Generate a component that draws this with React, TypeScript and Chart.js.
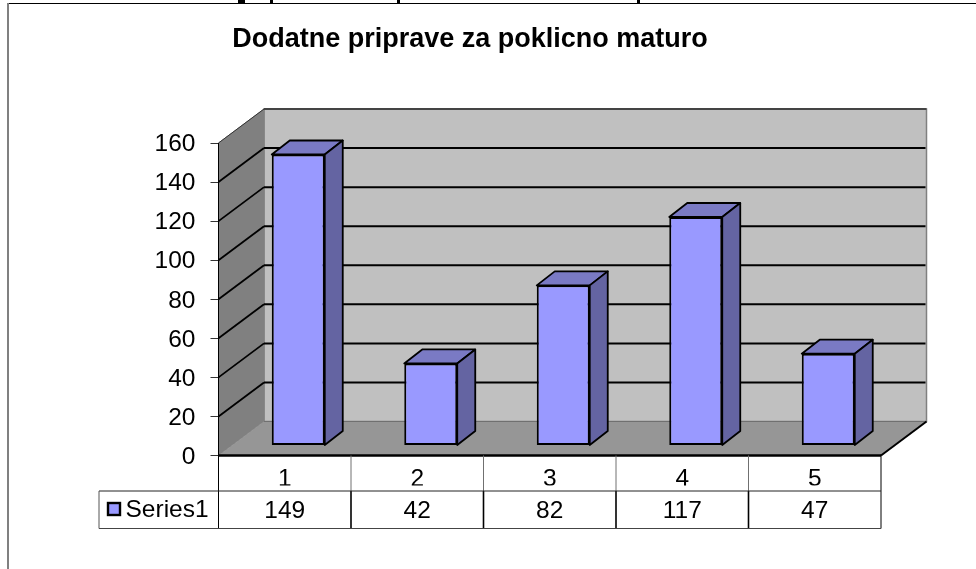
import React, { useEffect, useRef } from "react";
import { Chart, registerables } from "chart.js";

Chart.register(...registerables);

const categories = ["1", "2", "3", "4", "5"];
const seriesName = "Series1";
const seriesValues = [149, 42, 82, 117, 47];
const titleText = "Dodatne priprave za poklicno maturo";
const FONT = "'Liberation Sans', Arial, sans-serif";

// 3D projection
const WALL_DX = 45.5;
const WALL_DY = -34;
const BAR_OX = 13.5;
const BAR_OY = -10;
const BAR_DX = 18;
const BAR_DY = -14;

const poly = (ctx: CanvasRenderingContext2D, pts: number[][], fill?: string, stroke?: string, lw = 1) => {
  ctx.beginPath();
  pts.forEach((p, i) => (i ? ctx.lineTo(p[0], p[1]) : ctx.moveTo(p[0], p[1])));
  ctx.closePath();
  if (fill) {
    ctx.fillStyle = fill;
    ctx.fill();
  }
  if (stroke) {
    ctx.strokeStyle = stroke;
    ctx.lineWidth = lw;
    ctx.stroke();
  }
};
const line = (ctx: CanvasRenderingContext2D, x1: number, y1: number, x2: number, y2: number, c: string, lw: number) => {
  ctx.beginPath();
  ctx.moveTo(x1, y1);
  ctx.lineTo(x2, y2);
  ctx.strokeStyle = c;
  ctx.lineWidth = lw;
  ctx.stroke();
};

const scene3d = {
  id: "scene3d",
  afterLayout(chart: any) {
    const t = chart.titleBlock;
    if (t) {
      t.left = 0;
      t.right = 940;
      t.top = 23;
      t.bottom = 56;
    }
  },
  beforeDraw(chart: any) {
    const { ctx, chartArea: a, scales } = chart;
    const { left: L, right: R, top: T, bottom: B } = a;
    ctx.save();
    // frame of the pasted picture
    ctx.fillStyle = "#000";
    ctx.fillRect(7, 3, 969, 1);
    [[238, 7], [270, 3], [397, 3], [637, 3]].forEach(([x, w]) => ctx.fillRect(x, 0, w, 3));
    ctx.fillStyle = "#808080";
    ctx.fillRect(7, 3, 2, 566);

    // walls and floor
    poly(ctx, [[L + WALL_DX, T + WALL_DY], [R + WALL_DX, T + WALL_DY], [R + WALL_DX, B + WALL_DY], [L + WALL_DX, B + WALL_DY]], "#c0c0c0", "#808080", 1.5);
    poly(ctx, [[L, T], [L + WALL_DX, T + WALL_DY], [L + WALL_DX, B + WALL_DY], [L, B]], "#808080", "#808080", 1);
    poly(ctx, [[L, B], [R, B], [R + WALL_DX, B + WALL_DY], [L + WALL_DX, B + WALL_DY]], "#969696");
    line(ctx, L + WALL_DX, B + WALL_DY, R + WALL_DX, B + WALL_DY, "#707070", 1);
    line(ctx, L + WALL_DX, T + WALL_DY, R + WALL_DX, T + WALL_DY, "#444", 2);

    // gridlines, from the value scale
    scales.y.ticks.forEach((tk: any) => {
      if (tk.value === 0 || tk.value === 160) return;
      const y = scales.y.getPixelForValue(tk.value);
      line(ctx, L, y, L + WALL_DX, y + WALL_DY, "#000", 1.8);
      line(ctx, L + WALL_DX, y + WALL_DY, R + WALL_DX - 1, y + WALL_DY, "#000", 2);
    });
    line(ctx, L, T, L + WALL_DX, T + WALL_DY, "#333", 1);
    line(ctx, L, B, R, B, "#000", 2.4);
    line(ctx, R, B, R + WALL_DX, B + WALL_DY, "#000", 2);

    // data table
    const rowA = 491, rowB = 528.5, legendL = 99;
    const edge = (i: number) => L + ((R - L) * i) / categories.length;
    for (let i = 0; i <= categories.length; i++) {
      const outer = i === 0 || i === categories.length;
      line(ctx, edge(i), B, edge(i), rowA, outer ? "#000" : "#707070", 1);
      line(ctx, edge(i), rowA, edge(i), rowB, "#000", outer ? 1 : 1.6);
    }
    line(ctx, legendL, rowA, R, rowA, "#222", 1);
    line(ctx, legendL, rowB, R, rowB, "#444", 1);
    line(ctx, legendL, rowA, legendL, rowB, "#555", 1);
    ctx.font = `24.5px ${FONT}`;
    ctx.fillStyle = "#000";
    ctx.textBaseline = "middle";
    ctx.textAlign = "center";
    seriesValues.forEach((v, i) => ctx.fillText(String(v), (edge(i) + edge(i + 1)) / 2, 511));
    ctx.textAlign = "left";
    ctx.fillText(seriesName, 125.5, 510);
    ctx.fillStyle = "#9999ff";
    ctx.strokeStyle = "#000";
    ctx.lineWidth = 2.4;
    ctx.fillRect(108, 503, 12, 12);
    ctx.strokeRect(108, 503, 12, 12);
    ctx.restore();
  },
  beforeDatasetsDraw(chart: any) {
    chart.ctx.save();
    chart.ctx.translate(BAR_OX, BAR_OY);
  },
  afterDatasetsDraw(chart: any) {
    const ctx = chart.ctx;
    chart.getDatasetMeta(0).data.forEach((el: any) => {
      const h = el.width / 2;
      const x0 = el.x - h, x1 = el.x + h, t = el.y, b = el.base;
      ctx.lineJoin = "round";
      poly(ctx, [[x0, t], [x1, t], [x1 + BAR_DX, t + BAR_DY], [x0 + BAR_DX, t + BAR_DY]], "#7a7ac4", "#000", 1.8);
      poly(ctx, [[x1, t], [x1 + BAR_DX, t + BAR_DY], [x1 + BAR_DX, b + BAR_DY], [x1, b]], "#6464a2", "#000", 1.8);
    });
    ctx.restore();
  },
};

export default function App() {
  const ref = useRef<HTMLCanvasElement>(null);
  useEffect(() => {
    const chart = new Chart(ref.current!, {
      type: "bar",
      data: {
        labels: categories,
        datasets: [
          {
            label: seriesName,
            data: seriesValues,
            backgroundColor: "#9999ff",
            borderColor: "#000",
            borderWidth: 2,
            borderSkipped: false,
            barPercentage: 0.4,
            categoryPercentage: 1,
            clip: false,
          } as any,
        ],
      },
      options: {
        responsive: false,
        animation: false,
        devicePixelRatio: 1,
        layout: { padding: { left: 98.5, right: 95, top: 110.6, bottom: 83.5 } },
        plugins: {
          legend: { display: false },
          tooltip: { enabled: false },
          title: {
            display: true,
            text: titleText,
            color: "#000",
            padding: 0,
            font: { family: FONT, size: 27, weight: "bold", lineHeight: 1.2 },
          },
        },
        scales: {
          x: {
            grid: { display: false, drawTicks: false },
            border: { display: false },
            afterFit: (s: any) => { s.height = 30; },
            ticks: { color: "#000", padding: 9, font: { family: FONT, size: 24.5 }, maxRotation: 0 },
          },
          y: {
            min: 0,
            max: 160,
            afterFit: (s: any) => { s.width = 120; },
            grid: { drawOnChartArea: false, drawTicks: true, tickLength: 8, color: "#333", lineWidth: 1 },
            border: { display: true, color: "#000", width: 1 },
            ticks: { stepSize: 20, color: "#000", padding: 15, labelOffset: 1.5, font: { family: FONT, size: 24.5 } },
          },
        },
      },
      plugins: [scene3d],
    } as any);
    return () => chart.destroy();
  }, []);
  return (
    <div style={{ position: "absolute", left: 0, top: 0, width: 976, height: 569, background: "#fff" }}>
      <canvas ref={ref} width={976} height={569} style={{ display: "block" }} />
    </div>
  );
}
